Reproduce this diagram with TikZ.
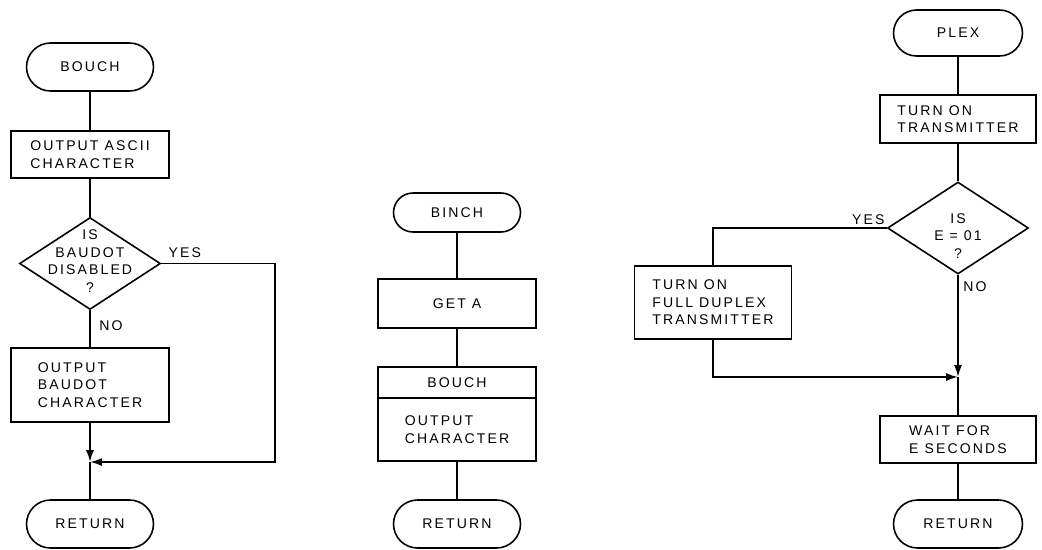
\documentclass[tikz,border=0pt]{standalone}
\usepackage{fontspec}
\newfontfamily\chartfont[LetterSpace=15]{Liberation Sans}
\usetikzlibrary{shapes.geometric,shapes.misc,arrows.meta}

\begin{document}
\begin{tikzpicture}[
  x=0.02cm, y=-0.02cm,
  font=\chartfont\fontsize{8}{10}\selectfont,
  term/.style={rounded rectangle, draw=black, line width=0.9pt,
               minimum width=2.54cm, minimum height=0.96cm, inner sep=0pt},
  proc/.style={rectangle, draw=black, line width=0.9pt, minimum width=3.16cm,
               align=left, inner sep=0pt},
  dec/.style={diamond, draw=black, line width=0.9pt, minimum width=2.82cm,
              minimum height=1.84cm, inner sep=0pt},
  dtxt/.style={align=center, inner sep=0pt},
  lbl/.style={inner sep=0pt},
  line/.style={line width=1pt},
  arr/.style={line, -{Latex[length=2.4mm, width=1.6mm]}},
]
\useasboundingbox (0,0) rectangle (1042,549);

% BOUCH routine
\node[term] (bouch) at (90,67) {BOUCH};
\node[proc, minimum height=0.94cm] (ascii) at (90,154.5) {OUTPUT ASCII\\CHARACTER};
\node[dec] (dis) at (90,263.5) {};
\node[dtxt] (distxt) at (90,261) {IS\\BAUDOT\\DISABLED\\?};
\node[proc, minimum height=1.48cm] (baud) at (90,385) {OUTPUT\\BAUDOT\\CHARACTER};
\coordinate (jl) at (90,462);
\coordinate (yl) at (275,462);
\node[term] (ret1) at (90,524) {RETURN};

\draw[line] (bouch) -- (ascii);
\draw[line] (ascii) -- (dis);
\draw[line] (dis) -- (baud);
\draw[arr] (baud) -- (jl);
\draw[arr] (dis.east) -| (yl) -- (jl);
\draw[line] (jl) -- (ret1);

\node[lbl, anchor=base west] (yesl) at ([shift={(7,-6)}]dis.east) {YES};
\node[lbl, anchor=base west] (nol) at (99,330) {NO};

% BINCH routine
\node[term, minimum height=0.78cm] (binch) at (457,212.5) {BINCH};
\node[proc, minimum height=0.98cm] (geta) at (457,303.5) {GET A};
\node[proc, minimum height=0.62cm] (callhd) at (457,382.5) {BOUCH};
\node[proc, minimum height=1.26cm] (callbd) at (457,429.5) {OUTPUT\\CHARACTER};
\node[term] (ret2) at (457,524) {RETURN};

\draw[line] (binch) -- (geta);
\draw[line] (geta) -- (callhd);
\draw[line] (callbd) -- (ret2);

% PLEX routine
\node[term, minimum width=2.58cm, minimum height=0.92cm] (plex) at (958,33) {PLEX};
\node[proc, minimum width=3.12cm, minimum height=0.96cm] (ton) at (958,119) {TURN ON\\TRANSMITTER};
\node[dec] (e01) at (958,228) {};
\node[dtxt] (e01txt) at (958,236) {IS\\E = 01\\?};
\node[proc, minimum width=3.14cm, minimum height=1.46cm] (fdx) at (713,302.5) {TURN ON\\FULL DUPLEX\\TRANSMITTER};
\coordinate (jr) at (958,377);
\node[proc, minimum width=3.12cm, minimum height=0.94cm] (wait) at (958,439.5) {WAIT FOR\\E SECONDS};
\node[term, minimum width=2.58cm] (ret3) at (958,524) {RETURN};

\draw[line] (plex) -- (ton);
\draw[line] (ton) -- (e01);
\draw[line] (e01.west) -| (fdx.north);
\draw[arr] (e01) -- (jr);
\draw[arr] (fdx.south) |- (jr);
\draw[line] (jr) -- (wait);
\draw[line] (wait) -- (ret3);

\node[lbl, anchor=base east] (yesr) at ([shift={(-2,-4)}]e01.west) {YES};
\node[lbl, anchor=base west] (nor) at (963,291) {NO};

\end{tikzpicture}
\end{document}
